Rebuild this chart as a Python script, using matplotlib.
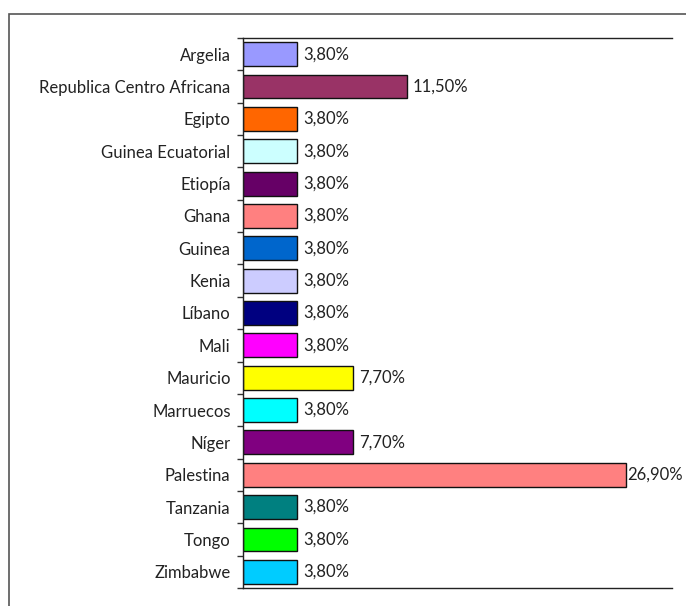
import matplotlib.pyplot as plt
from matplotlib.patches import Rectangle
import numpy as np

paises = ["Argelia", "Republica Centro Africana", "Egipto", "Guinea Ecuatorial",
          "Etiopía", "Ghana", "Guinea", "Kenia", "Líbano", "Mali", "Mauricio",
          "Marruecos", "Níger", "Palestina", "Tanzania", "Tongo", "Zimbabwe"]
porcentajes = [3.8, 11.5, 3.8, 3.8, 3.8, 3.8, 3.8, 3.8, 3.8, 3.8, 7.7,
               3.8, 7.7, 26.9, 3.8, 3.8, 3.8]
colores = ["#9999FF", "#993366", "#FF6600", "#CCFFFF", "#660066", "#FF8080",
           "#0066CC", "#CCCCFF", "#000080", "#FF00FF", "#FFFF00", "#00FFFF",
           "#800080", "#FF8080", "#008080", "#00FF00", "#00CCFF"]

plt.rcParams['font.family'] = ['Lato', 'DejaVu Sans']

fig = plt.figure(figsize=(6.86, 6.06), dpi=100)
# marco exterior del grafico
fig.patches.append(Rectangle((9 / 686, -0.1), 1.2, 1 - 14 / 606 + 0.1,
                             transform=fig.transFigure, fill=False,
                             edgecolor="#555555", linewidth=1.2))

ax = fig.add_axes([243 / 686, 1 - 588 / 606, (672 - 243) / 686, (588 - 38) / 606])

y = np.arange(len(paises))
ax.barh(y, porcentajes, height=0.74, color=colores, edgecolor="#111111", linewidth=1)

for yi, v in zip(y, porcentajes):
    off = 1 if v == max(porcentajes) else 6
    ax.annotate(f"{v:.2f}%".replace(".", ","), (v, yi), xytext=(off, 0),
                textcoords="offset pixels", va="center", ha="left",
                fontsize=12, color="#222222")

ax.set_xlim(0, 30.1)
ax.set_ylim(len(paises) - 0.5, -0.5)
ax.set_yticks(y)
ax.set_yticklabels(paises, fontsize=12, color="#222222")
ax.tick_params(axis="y", which="major", length=0, pad=9)
ax.set_yticks(np.arange(len(paises) + 1) - 0.5, minor=True)
ax.tick_params(axis="y", which="minor", length=4, width=1, color="#333333")
ax.set_xticks([])
ax.spines["right"].set_visible(False)
for s in ["left", "top", "bottom"]:
    ax.spines[s].set_color("#222222")
    ax.spines[s].set_linewidth(1)

fig.savefig("out.png", dpi=100)
